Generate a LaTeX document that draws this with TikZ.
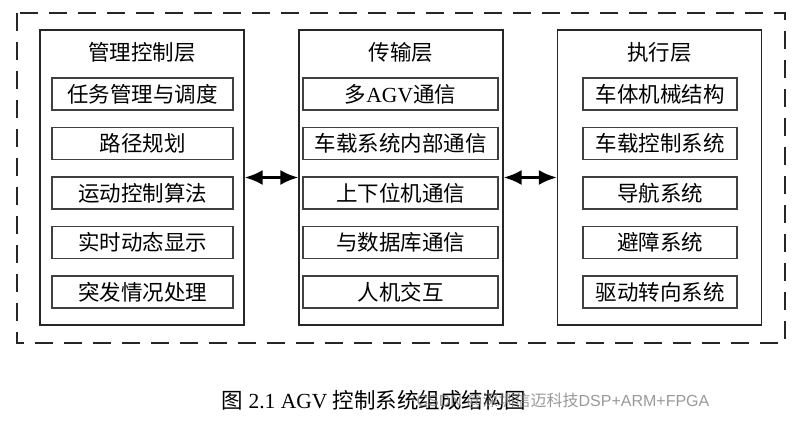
\documentclass[tikz,border=0pt]{standalone}
\usepackage{fontspec}
\setmainfont{Liberation Serif}
\newfontfamily\cjk{Noto Sans CJK SC}
\newfontfamily\wmfont{Liberation Sans}
\usetikzlibrary{arrows.meta}

\begin{document}
\begin{tikzpicture}[x=1pt,y=-1pt,
  frame/.style={draw=black!85, line width=2.6pt, dash pattern=on 18pt off 11pt},
  panel/.style={draw=black!85, line width=1.2pt, minimum width=204pt, minimum height=295pt, inner sep=0pt},
  title/.style={font=\cjk\fontsize{21.5pt}{24pt}\selectfont, inner sep=0pt},
  item/.style={draw=black!75, line width=1.2pt, minimum height=32pt, inner sep=0pt,
               font=\cjk\fontsize{21.5pt}{24pt}\selectfont},
  link/.style={line width=2.8pt, {Latex[length=18pt,width=15pt]}-{Latex[length=18pt,width=15pt]}},
  caption/.style={font=\fontsize{21.5pt}{24pt}\selectfont, inner sep=0pt},
  wmark/.style={font=\wmfont\fontsize{16pt}{18pt}\selectfont, text=black!50, opacity=0.8, inner sep=0pt}
]
\useasboundingbox (0,0) rectangle (804,421);

% outer dashed boundary
\draw[frame] (17,13) rectangle (785,343);

% the three layers
\node[panel] (p1) at (142,177.5) {};
\node[panel] (p2) at (401,177.5) {};
\node[panel] (p3) at (659.5,177.5) {};

\node[title] (t1) at (142,52.5) {管理控制层};
\node[title] (t2) at (401,52.5) {传输层};
\node[title] (t3) at (659.5,52.5) {执行层};

% management / control layer
\begin{scope}[every node/.append style={minimum width=181pt}]
  \node[item] (a1) at (142.5,94)    {任务管理与调度};
  \node[item] (a2) at (142.5,143.5) {路径规划};
  \node[item] (a3) at (142.5,193)   {运动控制算法};
  \node[item] (a4) at (142.5,242.5) {实时动态显示};
  \node[item] (a5) at (142.5,292)   {突发情况处理};
\end{scope}

% transmission layer
\begin{scope}[every node/.append style={minimum width=195pt}]
  \node[item] (b1) at (400.5,94)    {多{\rmfamily AGV}通信};
  \node[item] (b2) at (400.5,143.5) {车载系统内部通信};
  \node[item] (b3) at (400.5,193)   {上下位机通信};
  \node[item] (b4) at (400.5,242.5) {与数据库通信};
  \node[item] (b5) at (400.5,292)   {人机交互};
\end{scope}

% execution layer
\begin{scope}[every node/.append style={minimum width=154pt}]
  \node[item] (c1) at (660,94)    {车体机械结构};
  \node[item] (c2) at (660,143.5) {车载控制系统};
  \node[item] (c3) at (660,193)   {导航系统};
  \node[item] (c4) at (660,242.5) {避障系统};
  \node[item] (c5) at (660,292)   {驱动转向系统};
\end{scope}

% links between layers
\draw[link] (p1.east) -- (p2.west);
\draw[link] (p2.east) -- (p3.west);

% caption
\node[caption] (cap) at (374,400) {{\cjk 图} 2.1 AGV {\cjk 控制系统组成结构图}};
\node[wmark] (wm) at (563,401) {CSDN @{\cjk 深圳信迈科技}DSP+ARM+FPGA};
\end{tikzpicture}
\end{document}
